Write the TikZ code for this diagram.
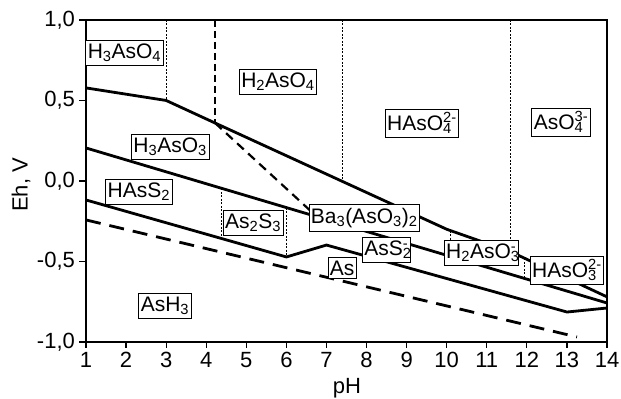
\documentclass[tikz,border=0pt]{standalone}
\usepackage{fontspec}
\setmainfont{Liberation Sans}
\newcommand{\ionsub}[2]{\rlap{\textsubscript{#1}}\textsuperscript{#2}}

\begin{document}
\begin{tikzpicture}[x=40.08pt, y=161pt, font=\fontsize{21}{24}\selectfont]
		\tikzset{species/.style={draw, fill=white, line width=0.7pt, inner xsep=2pt, inner ysep=3.5pt},
			border/.style={line width=2.8pt, line join=round},
			split/.style={line width=1pt, dash pattern=on 2pt off 1.5pt}}
		\useasboundingbox (-1.1457,-1.354) rectangle (14.348,1.124);
		% points of the upper line
		\coordinate (A0) at (1,0.578);
		\coordinate (A1) at (3,0.50);
		\coordinate (A2) at (4.22,0.36);
		\coordinate (A3) at (10,-0.30);
		\coordinate (A4) at (11.6,-0.44);
		\coordinate (A5) at (14,-0.72);
		% middle and lower lines
		\coordinate (B0) at (1,0.205);
		\coordinate (B1) at (14,-0.758);
		\coordinate (C0) at (1,-0.118);
		\coordinate (C1) at (6,-0.472);
		\coordinate (C2) at (7,-0.398);
		\coordinate (C3) at (13,-0.814);
		\coordinate (C4) at (14,-0.789);
		\coordinate (W0) at (1,-0.242);
		\coordinate (W1) at (13.25,-0.969);
		\coordinate (D) at (6.76,-0.222);
		% frame and ticks
		\draw [line width=1.8pt] (1,-1) rectangle (14,1);
		\foreach \x in {1,...,14}
			\draw [line width=1.2pt] (\x,-1) -- (\x,-1.037) node [below=0pt, font=\fontsize{22}{24}\selectfont] {\x};
		\foreach \y/\t in {1/{1,0},0.5/{0,5},0/{0,0},-0.5/{-0,5},-1/{-1,0}}
			\draw [line width=1.2pt] (1,\y) -- (0.82,\y) node [left=0pt, font=\fontsize{22}{24}\selectfont] {\t};
		\node [font=\fontsize{22}{24}\selectfont] (ph) at (7.51,-1.29) {pH};
		\node [rotate=90, font=\fontsize{22}{24}\selectfont] (eh) at (-0.62,-0.025) {Eh, V};
		% boundaries
		\draw [split] (3,1) -- (A1);
		\draw [split] (7.41,1) -- (7.41,-0.004);
		\draw [split] (11.6,1) -- (A4);
		\draw [split] (4.39,-0.046) -- (4.39,-0.358);
		\draw [split] (6,-0.165) -- (C1);
		\draw [split] (10.1,-0.309) -- (10.1,-0.469);
		\draw [split] (11.95,-0.481) -- (11.95,-0.606);
		\draw [line width=2.2pt, dash pattern=on 7pt off 4pt] (4.22,1) -- (A2);
		\draw [line width=2.2pt, dash pattern=on 9pt off 6pt] (A2) -- (D);
		\draw [border] (A0) -- (A1) -- (A2) -- (A3) -- (A4) -- (A5);
		\draw [border] (B0) -- (B1);
		\draw [border] (C0) -- (C1) -- (C2) -- (C3) -- (C4);
		\draw [line width=2.8pt, dash pattern=on 15pt off 9pt] (W0) -- (W1);
		% species
		\node [species] (h3aso4) at (1.96,0.795) {H\textsubscript{3}AsO\textsubscript{4}};
		\node [species] (h2aso4) at (5.79,0.615) {H\textsubscript{2}AsO\textsubscript{4}};
		\node [species] (haso4) at (9.38,0.36) {HAsO\ionsub{4}{2-}};
		\node [species] (aso4) at (12.85,0.366) {AsO\ionsub{4}{3-}};
		\node [species] (h3aso3) at (3.10,0.211) {H\textsubscript{3}AsO\textsubscript{3}};
		\node [species] (hass2) at (2.32,-0.068) {HAsS\textsubscript{2}};
		\node [species] (as2s3) at (5.17,-0.261) {As\textsubscript{2}S\textsubscript{3}};
		\node [species] (ba) at (7.94,-0.230) {Ba\textsubscript{3}(AsO\textsubscript{3})\textsubscript{2}};
		\node [species] (ass2) at (8.49,-0.429) {AsS\ionsub{2}{-}};
		\node [species] (as) at (7.39,-0.540) {As};
		\node [species] (h2aso3) at (10.86,-0.447) {H\textsubscript{2}AsO\ionsub{3}{-}};
		\node [species] (haso3) at (13.0,-0.553) {HAsO\ionsub{3}{2-}};
		\node [species] (ash3) at (2.97,-0.776) {AsH\textsubscript{3}};
	    \end{tikzpicture}
\end{document}
